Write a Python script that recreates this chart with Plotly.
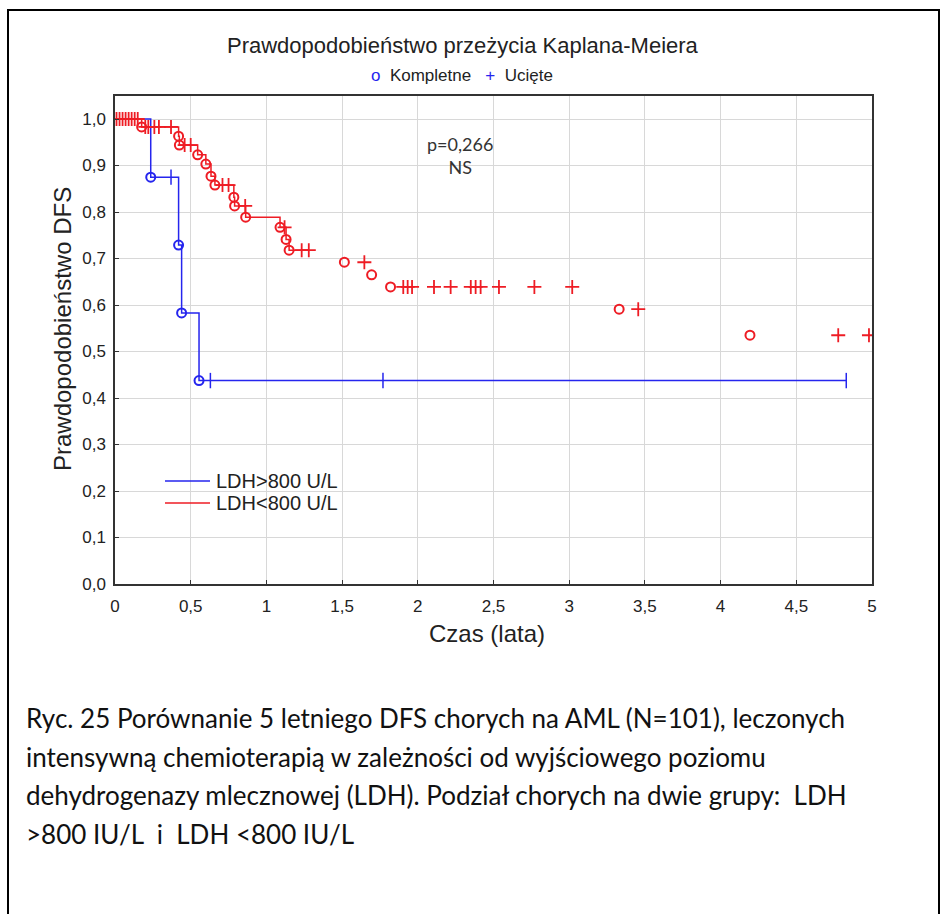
import plotly.graph_objects as go

# ---- data ----
blue_event_t = [0.236, 0.42, 0.44, 0.555]
blue_event_s = [0.875, 0.729, 0.583, 0.4375]
blue_cens_t = [0.37, 0.63, 1.77, 4.83]
blue_cens_s = [0.875, 0.4375, 0.4375, 0.4375]
blue_line_end = 4.83

red_event_t = [0.176, 0.42, 0.425, 0.546, 0.60, 0.634, 0.66, 0.785, 0.79, 0.863,
               1.09, 1.13, 1.15, 1.515, 1.695, 1.82, 3.33, 4.194]
red_event_s = [0.983, 0.963, 0.944, 0.923, 0.903, 0.877, 0.858, 0.832, 0.813, 0.789,
               0.767, 0.741, 0.718, 0.692, 0.665, 0.639, 0.591, 0.535]
red_cens_t = [0.01, 0.03, 0.05, 0.07, 0.09, 0.11, 0.13, 0.15,
              0.20, 0.22, 0.26, 0.29, 0.37,
              0.46, 0.50, 0.71, 0.75, 0.86, 1.12, 1.233, 1.28, 1.647,
              1.904, 1.933, 1.962, 2.107, 2.217, 2.35, 2.382, 2.415, 2.536, 2.77, 3.02,
              3.456, 4.777, 4.98]
red_cens_s = [1.0] * 8 + [0.983] * 5 + [0.944, 0.944, 0.858, 0.858, 0.813, 0.767, 0.718, 0.718, 0.692] \
             + [0.639] * 11 + [0.591, 0.535, 0.535]
red_line_end = 1.28

x_ticks = [0, 0.5, 1, 1.5, 2, 2.5, 3, 3.5, 4, 4.5, 5]
x_ticktext = ["0", "0,5", "1", "1,5", "2", "2,5", "3", "3,5", "4", "4,5", "5"]
y_ticks = [0, 0.1, 0.2, 0.3, 0.4, 0.5, 0.6, 0.7, 0.8, 0.9, 1.0]
y_ticktext = ["0,0", "0,1", "0,2", "0,3", "0,4", "0,5", "0,6", "0,7", "0,8", "0,9", "1,0"]

legend_names = ["LDH>800 U/L", "LDH<800 U/L"]

caption_lines = [
    "Ryc. 25 Porównanie 5 letniego DFS chorych na AML (N=101), leczonych",
    "intensywną chemioterapią w zależności od wyjściowego poziomu",
    "dehydrogenazy mlecznowej (LDH). Podział chorych na dwie grupy:  LDH",
    ">800 IU/L  i  LDH <800 IU/L",
]

BLUE = "#2525ee"
RED = "#ee1c24"
ARIAL = "Arial"

# plot area in pixels: x 115..872, y 96..584
L, R, T, B = 115, 872, 96, 584
W, H = R - L, B - T


def px(xp):
    return (xp - L) / W


def py(yp):
    return (B - yp) / H


def step_points(ev_t, ev_s, end_t, max_t=None):
    xs, ys = [0.0], [1.0]
    for t, s in zip(ev_t, ev_s):
        if max_t is not None and t > max_t:
            break
        xs.append(t)
        ys.append(s)
    xs.append(end_t)
    ys.append(ys[-1])
    return xs, ys


fig = go.Figure()

bx, by = step_points(blue_event_t, blue_event_s, blue_line_end)
rx, ry = step_points(red_event_t, red_event_s, red_line_end, max_t=red_line_end)

fig.add_trace(go.Scatter(x=bx, y=by, mode="lines", line=dict(color=BLUE, width=1.5, shape="hv"),
                         name=legend_names[0], showlegend=False))
fig.add_trace(go.Scatter(x=rx, y=ry, mode="lines", line=dict(color=RED, width=1.5, shape="hv"),
                         name=legend_names[1], showlegend=False))

fig.add_trace(go.Scatter(x=blue_event_t, y=blue_event_s, mode="markers", showlegend=False,
                         marker=dict(symbol="circle-open", size=9, color=BLUE, line=dict(width=2, color=BLUE))))
fig.add_trace(go.Scatter(x=blue_cens_t, y=blue_cens_s, mode="markers", showlegend=False,
                         marker=dict(symbol="line-ns-open", size=11, color=BLUE, line=dict(width=1.5, color=BLUE))))
fig.add_trace(go.Scatter(x=red_event_t, y=red_event_s, mode="markers", showlegend=False,
                         marker=dict(symbol="circle-open", size=9, color=RED, line=dict(width=2, color=RED))))
fig.add_trace(go.Scatter(x=red_cens_t, y=red_cens_s, mode="markers", showlegend=False,
                         marker=dict(symbol="cross-thin-open", size=10, color=RED, line=dict(width=1.8, color=RED))))

axis_common = dict(showgrid=True, gridcolor="#d8d8d8", gridwidth=1, zeroline=False,
                   showline=True, linecolor="#333333", linewidth=1.5, mirror=True,
                   ticks="inside", ticklen=4, tickcolor="#333333",
                   tickfont=dict(family=ARIAL, size=17, color="#222222"))

fig.update_xaxes(range=[0, 5], tickvals=x_ticks, ticktext=x_ticktext, ticklabelstandoff=6,
                 **axis_common)
fig.update_yaxes(range=[0, 1.0495], tickvals=y_ticks, ticktext=y_ticktext, ticklabelstandoff=4,
                 **axis_common)

annotations = [
    dict(text="Prawdopodobieństwo przeżycia Kaplana-Meiera", xref="paper", yref="paper",
         x=px(463), y=py(46), xanchor="center", yanchor="middle", showarrow=False,
         font=dict(family=ARIAL, size=22, color="#222222")),
    dict(text=f"<span style='color:{BLUE}'>o</span>  Kompletne   <span style='color:{BLUE}'>+</span>  Ucięte",
         xref="paper", yref="paper",
         x=px(462), y=py(75), xanchor="center", yanchor="middle", showarrow=False,
         font=dict(family=ARIAL, size=17, color="#222222")),
    dict(text="p=0,266<br>NS", xref="paper", yref="paper",
         x=px(460), y=py(155), xanchor="center", yanchor="middle", showarrow=False,
         align="center", font=dict(family="Lato", size=18, color="#333333")),
    dict(text="Czas (lata)", xref="paper", yref="paper",
         x=px(487), y=py(633), xanchor="center", yanchor="middle", showarrow=False,
         font=dict(family=ARIAL, size=24, color="#222222")),
    dict(text="Prawdopodobieństwo DFS", xref="paper", yref="paper", textangle=-90,
         x=px(62), y=py(329), xanchor="center", yanchor="middle", showarrow=False,
         font=dict(family=ARIAL, size=24, color="#222222")),
]
for name, yy in zip(legend_names, [481, 503]):
    annotations.append(dict(text=name, xref="paper", yref="paper", x=px(214), y=py(yy),
                            xanchor="left", yanchor="middle", showarrow=False,
                            font=dict(family=ARIAL, size=20, color="#222222")))

cap_y = [718, 757, 795, 834]
for line, yy in zip(caption_lines, cap_y):
    annotations.append(dict(text=line, xref="paper", yref="paper",
                            x=px(24), y=py(yy), xanchor="left", yanchor="middle",
                            showarrow=False, font=dict(family="Lato", size=26, color="#111111")))

shapes = [dict(type="rect", xref="paper", yref="paper",
               x0=px(8), x1=px(939), y0=py(930), y1=py(10),
               line=dict(color="black", width=2), fillcolor="rgba(0,0,0,0)", layer="below")]
for color, yy in zip([BLUE, RED], [481, 503]):
    shapes.append(dict(type="line", xref="paper", yref="paper", x0=px(165), x1=px(210),
                       y0=py(yy), y1=py(yy), line=dict(color=color, width=1.5)))

fig.update_layout(
    width=941, height=914, autosize=False,
    margin=dict(l=L, r=941 - R, t=T, b=914 - B),
    paper_bgcolor="white", plot_bgcolor="white",
    showlegend=False,
    annotations=annotations,
    shapes=shapes,
)

fig.write_html("out.html")
